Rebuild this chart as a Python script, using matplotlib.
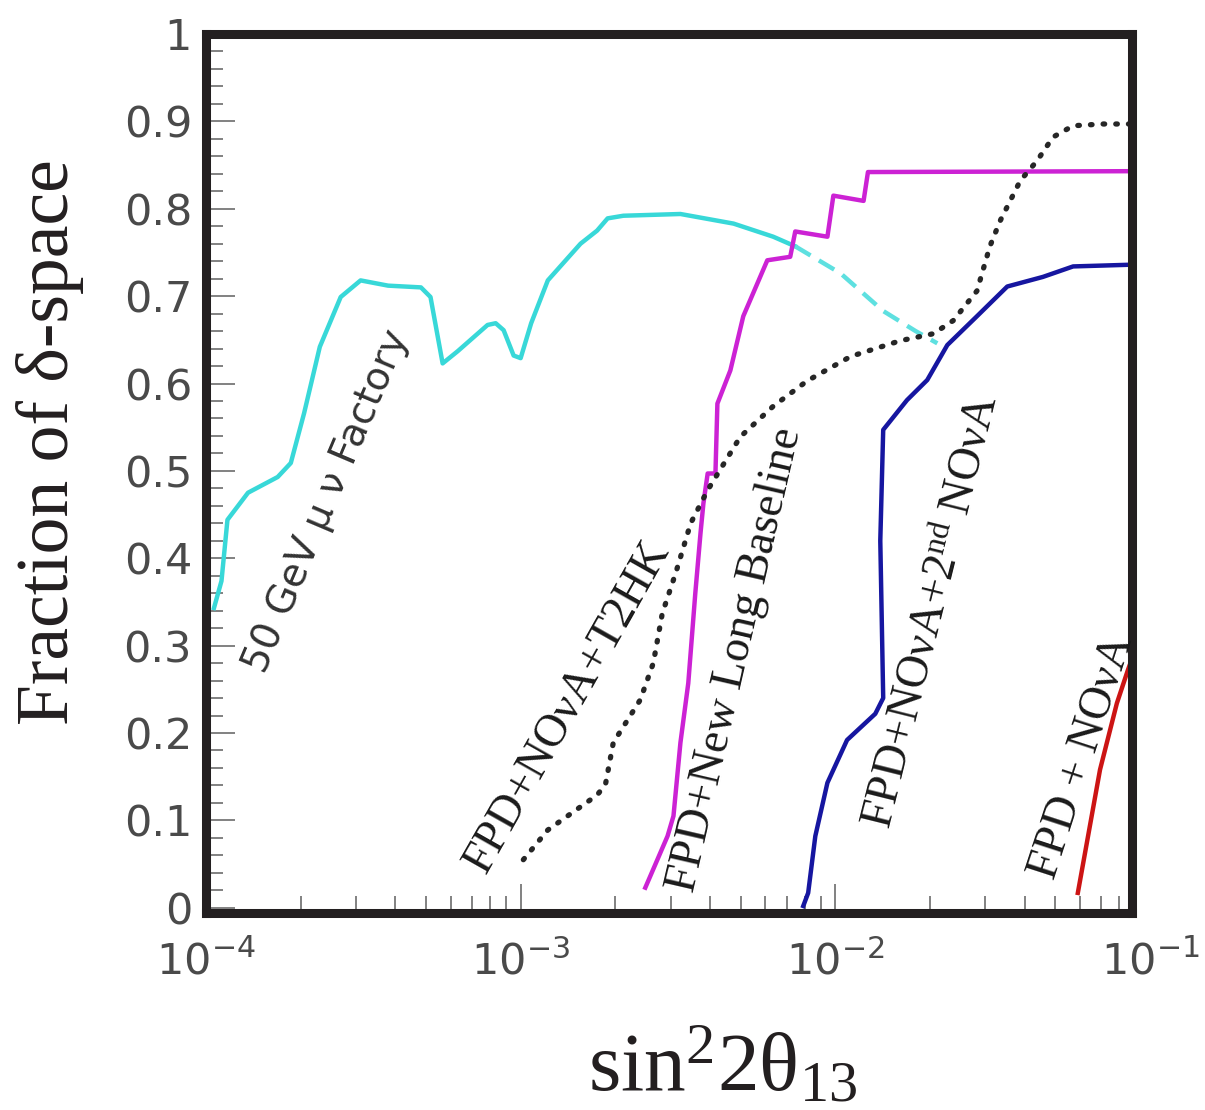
import matplotlib
matplotlib.use('Agg')
import matplotlib.pyplot as plt
from matplotlib.ticker import MultipleLocator, LogLocator, LogFormatterSciNotation, NullFormatter

plt.rcParams['mathtext.fontset'] = 'custom'
plt.rcParams['mathtext.rm'] = 'Liberation Serif'
plt.rcParams['mathtext.it'] = 'Liberation Serif:italic'
plt.rcParams['mathtext.bf'] = 'Liberation Serif:bold'

# 50 GeV mu-nu factory, solid part
factory_x = [1.06e-4, 1.12e-4, 1.17e-4, 1.36e-4, 1.69e-4, 1.86e-4, 2.05e-4, 2.30e-4,
             2.68e-4, 3.10e-4, 3.79e-4, 4.82e-4, 5.17e-4, 5.65e-4, 6.31e-4, 7.85e-4,
             8.33e-4, 8.83e-4, 9.50e-4, 1.00e-3, 1.08e-3, 1.22e-3, 1.55e-3, 1.75e-3,
             1.89e-3, 2.12e-3, 3.22e-3, 4.75e-3, 6.35e-3, 7.46e-3]
factory_y = [0.343, 0.374, 0.444, 0.475, 0.493, 0.509, 0.566, 0.642,
             0.699, 0.718, 0.712, 0.710, 0.699, 0.623, 0.637, 0.667,
             0.669, 0.661, 0.632, 0.629, 0.669, 0.718, 0.760, 0.775,
             0.789, 0.792, 0.794, 0.783, 0.768, 0.757]
# dashed continuation
factory_dash_x = [7.46e-3, 1.04e-2, 1.42e-2, 1.80e-2, 2.11e-2]
factory_dash_y = [0.757, 0.726, 0.683, 0.660, 0.646]

# FPD + New Long Baseline
nlb_x = [2.49e-3, 2.93e-3, 3.06e-3, 3.22e-3, 3.41e-3, 3.59e-3, 3.73e-3, 3.81e-3,
         3.93e-3, 4.16e-3, 4.22e-3, 4.64e-3, 5.10e-3, 6.08e-3, 7.19e-3, 7.46e-3,
         9.44e-3, 9.86e-3, 1.23e-2, 1.27e-2, 8.77e-2]
nlb_y = [0.023, 0.082, 0.105, 0.189, 0.257, 0.360, 0.429, 0.463,
         0.497, 0.497, 0.577, 0.615, 0.677, 0.741, 0.745, 0.774,
         0.768, 0.815, 0.809, 0.842, 0.843]

# FPD + NOvA + T2HK (dotted)
t2hk_x = [1.02e-3, 1.22e-3, 1.75e-3, 1.86e-3, 1.97e-3, 2.40e-3, 2.64e-3, 2.82e-3,
          3.11e-3, 3.47e-3, 3.93e-3, 4.99e-3, 6.35e-3, 8.14e-3, 1.12e-2, 1.61e-2,
          2.05e-2, 2.37e-2, 2.82e-2, 3.10e-2, 3.34e-2, 3.87e-2, 4.38e-2, 4.92e-2,
          5.70e-2, 7.10e-2, 8.77e-2]
t2hk_y = [0.055, 0.089, 0.129, 0.141, 0.189, 0.238, 0.280, 0.337,
          0.383, 0.440, 0.478, 0.539, 0.574, 0.603, 0.631, 0.649,
          0.657, 0.672, 0.706, 0.757, 0.786, 0.832, 0.855, 0.882,
          0.895, 0.897, 0.897]

# FPD + NOvA + 2nd NOvA
nova2_x = [7.91e-3, 8.20e-3, 8.64e-3, 9.44e-3, 1.09e-2, 1.34e-2, 1.42e-2, 1.39e-2,
           1.42e-2, 1.69e-2, 1.96e-2, 2.27e-2, 2.82e-2, 3.52e-2, 4.57e-2, 5.70e-2,
           7.10e-2, 8.77e-2]
nova2_y = [0.002, 0.017, 0.082, 0.143, 0.192, 0.222, 0.240, 0.420,
           0.547, 0.581, 0.604, 0.644, 0.677, 0.711, 0.722, 0.734,
           0.735, 0.736]

# FPD + NOvA
nova_x = [5.90e-2, 6.94e-2, 7.85e-2, 8.51e-2, 8.77e-2]
nova_y = [0.017, 0.158, 0.234, 0.272, 0.285]

fig = plt.figure(figsize=(12.05, 11.1), dpi=100)
ax = fig.add_axes([206/1205, 1 - 913/1110, (1132-206)/1205, (913-34)/1110])

ax.plot(factory_x, factory_y, color='#38d8d8', lw=3.2)
ax.plot(factory_dash_x, factory_dash_y, color='#5ee0e0', lw=3.2, dashes=(4, 2.2))
ax.plot(nlb_x, nlb_y, color='#cc22d4', lw=3.2)
ax.plot(t2hk_x, t2hk_y, color='#262626', lw=3.8, dashes=(0.3, 2.1), dash_capstyle='round')
ax.plot(nova2_x, nova2_y, color='#1616a0', lw=3.2)
ax.plot(nova_x, nova_y, color='#cc1414', lw=3.2)

ax.set_xscale('log')
ax.set_xlim(1e-4, 8.77e-2)
ax.set_ylim(-0.006, 1.0)

for s in ax.spines.values():
    s.set_linewidth(6.5)
    s.set_color('#231f20')

ax.yaxis.set_major_locator(MultipleLocator(0.1))
ax.yaxis.set_minor_locator(MultipleLocator(0.02))
ax.yaxis.set_major_formatter(plt.FuncFormatter(lambda v, p: '%g' % round(v, 2)))
ax.xaxis.set_major_locator(LogLocator(base=10))
ax.xaxis.set_minor_locator(LogLocator(base=10, subs=range(2, 10)))
ax.xaxis.set_minor_formatter(NullFormatter())
ax.xaxis.set_major_formatter(LogFormatterSciNotation())

ax.tick_params(which='both', direction='in', top=False, right=False, color='#777777',
               labelcolor='#4a4a4a', labelsize=31)
ax.tick_params(which='major', length=21, width=1.3)
ax.tick_params(which='minor', length=12, width=1.3)
ax.tick_params(axis='y', pad=10)
ax.tick_params(axis='x', pad=20)

# 10^-1 sits just past the frame
ax.annotate(r'$\mathdefault{10^{-1}}$', xy=(0.1, 0), xycoords=('data', 'axes fraction'),
            xytext=(0, -20), textcoords='offset points', ha='center', va='top',
            fontsize=31, color='#4a4a4a', annotation_clip=False)

serif = ['Liberation Serif', 'DejaVu Serif']
ax.text(2.42e-4, 0.465, '50 GeV μ ν Factory', rotation=67, rotation_mode='anchor',
        ha='center', va='center', fontsize=28, color='#333333', family='DejaVu Sans')
ax.text(1.41e-3, 0.23, 'FPD+NOνA+T2HK', rotation=60.5, rotation_mode='anchor',
        ha='center', va='center', fontsize=33, color='#1a1a1a', family=serif)
ax.text(4.82e-3, 0.284, 'FPD+New Long Baseline', rotation=77, rotation_mode='anchor',
        ha='center', va='center', fontsize=33, color='#1a1a1a', family=serif)
ax.text(2.05e-2, 0.339, r'FPD+NOνA+2$^{\rm nd}$ NOνA', rotation=76, rotation_mode='anchor',
        ha='center', va='center', fontsize=33, color='#1a1a1a', family=serif)
ax.text(6.12e-2, 0.173, 'FPD + NOνA', rotation=72, rotation_mode='anchor',
        ha='center', va='center', fontsize=33, color='#1a1a1a', family=serif)

fig.text(50/1205, 1 - 442/1110, 'Fraction of δ-space', rotation=90, ha='center', va='center',
         fontsize=53, color='#231f20', family=serif)
fig.text(723/1205, 1 - 1090/1110, r'sin$^{\rm 2}$2θ$_{\rm 13}$', ha='center', va='baseline',
         fontsize=60, color='#231f20', family=serif)

fig.savefig('out.png', dpi=100)
